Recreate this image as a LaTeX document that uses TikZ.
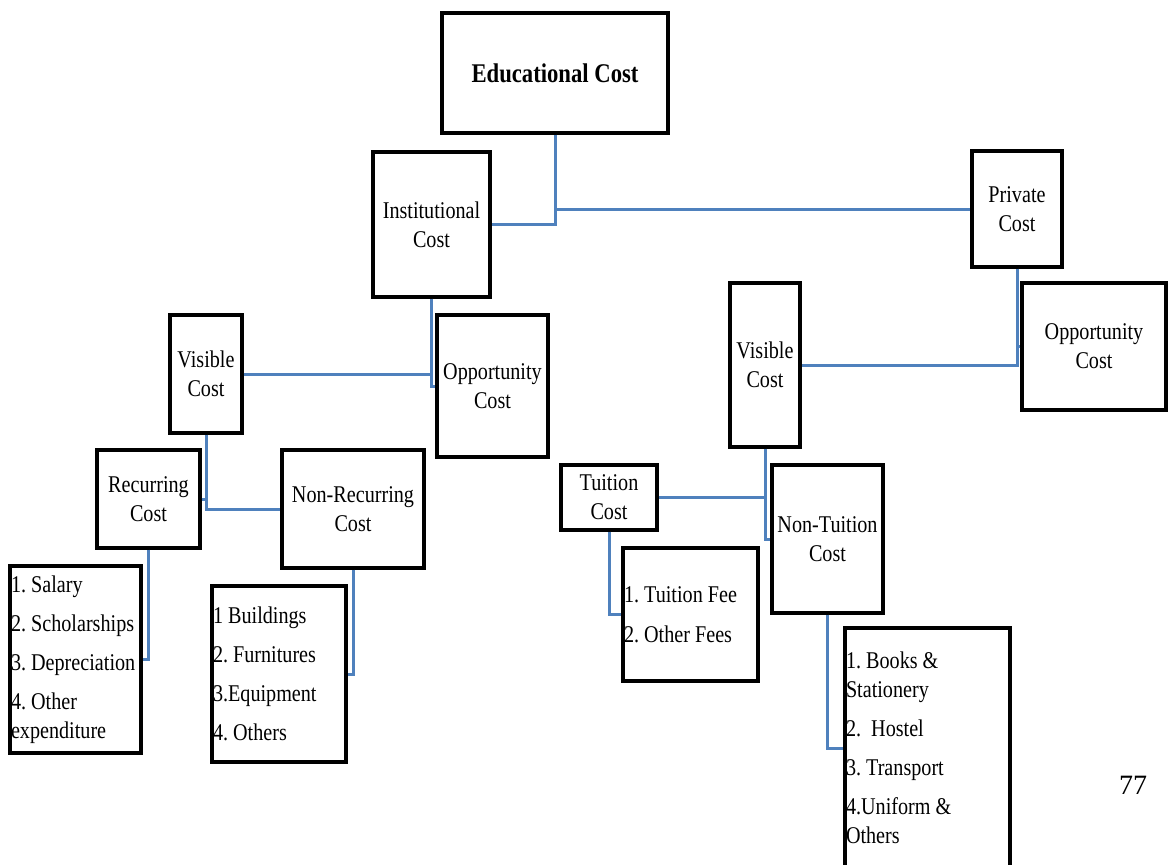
\documentclass[tikz,border=0pt]{standalone}
\usepackage{fontspec}
\setmainfont{Liberation Serif}[FakeStretch=0.84]
\newfontfamily\pagenumfont{Liberation Serif}
\usepackage{tikz}
\definecolor{linkblue}{RGB}{79,129,189}

\begin{document}
\begin{tikzpicture}[
  x=1pt, y=-1pt,
  box/.style={draw, line width=3.4pt, align=center, inner sep=1pt,
    font=\fontsize{24}{29}\selectfont},
  listbox/.style={draw, line width=3.4pt, align=flush left, inner xsep=1pt,
    font=\fontsize{24}{29}\selectfont},
  link/.style={draw=linkblue, line width=3pt}
]
\useasboundingbox (0,0) rectangle (1168,865);
\clip (0,0) rectangle (1168,865);

% top level
\node[box, minimum width=226pt, minimum height=120pt, font=\fontsize{27}{32}\selectfont\bfseries] (edu) at (555,73) {Educational Cost};
\node[box, minimum width=117pt, minimum height=145pt] (inst) at (431.5,224.5) {Institutional\\Cost};
\node[box, minimum width=90pt, minimum height=116pt] (priv) at (1017,209) {Private\\Cost};

% institutional side
\node[box, minimum width=72pt, minimum height=118pt] (visL) at (206,374) {Visible\\Cost};
\node[box, minimum width=111pt, minimum height=142pt] (oppL) at (492.5,386) {Opportunity\\Cost};
\node[box, minimum width=103pt, minimum height=98pt] (rec) at (148.5,499) {Recurring\\Cost};
\node[box, minimum width=142pt, minimum height=118pt] (nonrec) at (353,509) {Non-Recurring\\Cost};
\node[listbox, text width=129pt, minimum height=187pt] (recL) at (75.5,659.5)
  {1.~Salary\\[10pt]2.~Scholarships\\[10pt]3.~Depreciation\\[10pt]4.~Other\\expenditure};
\node[listbox, text width=132pt, minimum height=176pt] (nonrecL) at (279,674)
  {1~Buildings\\[10pt]2.~Furnitures\\[10pt]3.Equipment\\[10pt]4.~Others};

% private side
\node[box, minimum width=70pt, minimum height=164pt] (visR) at (765,365) {Visible\\Cost};
\node[box, minimum width=144pt, minimum height=127pt] (oppR) at (1094,346.5) {Opportunity\\Cost};
\node[box, minimum width=96pt, minimum height=65pt] (tui) at (609,497.5) {Tuition\\Cost};
\node[box, minimum width=111pt, minimum height=148pt] (nontui) at (827.5,539) {Non-Tuition\\Cost};
\node[listbox, text width=133pt, minimum height=133pt] (tuiL) at (690.5,614.5)
  {1.~Tuition~Fee\\[11pt]2.~Other~Fees};
\node[listbox, text width=163pt, minimum height=240pt] (nontuiL) at (927.5,748)
  {1.~Books~\&\\Stationery\\[10pt]2.~~Hostel\\[10pt]3.~Transport\\[10pt]4.Uniform~\&\\Others};

\node[font=\pagenumfont\fontsize{28}{32}\selectfont] (pnum) at (1133,785) {77};

% connectors
\draw[link] (edu.south) |- (inst.east);
\draw[link] (edu.south |- priv.west) -- (priv.west);
\draw[link] (inst.south) |- (oppL.west);
\draw[link] (visL.east) -- (inst.south |- visL.east);
\draw[link] (visL.south) |- (nonrec.west);
\draw[link] (rec.east) -- (visL.south |- rec.east);
\draw[link] (rec.south) |- (recL.east);
\draw[link] (nonrec.south) |- (nonrecL.east);
\draw[link] (priv.south) |- (visR.east);
\draw[link] (oppR.west) -- (priv.south |- oppR.west);
\draw[link] (visR.south) |- (nontui.west);
\draw[link] (tui.east) -- (visR.south |- tui.east);
\draw[link] (tui.south) |- (tuiL.west);
\draw[link] (nontui.south) |- (nontuiL.west);
\end{tikzpicture}
\end{document}
